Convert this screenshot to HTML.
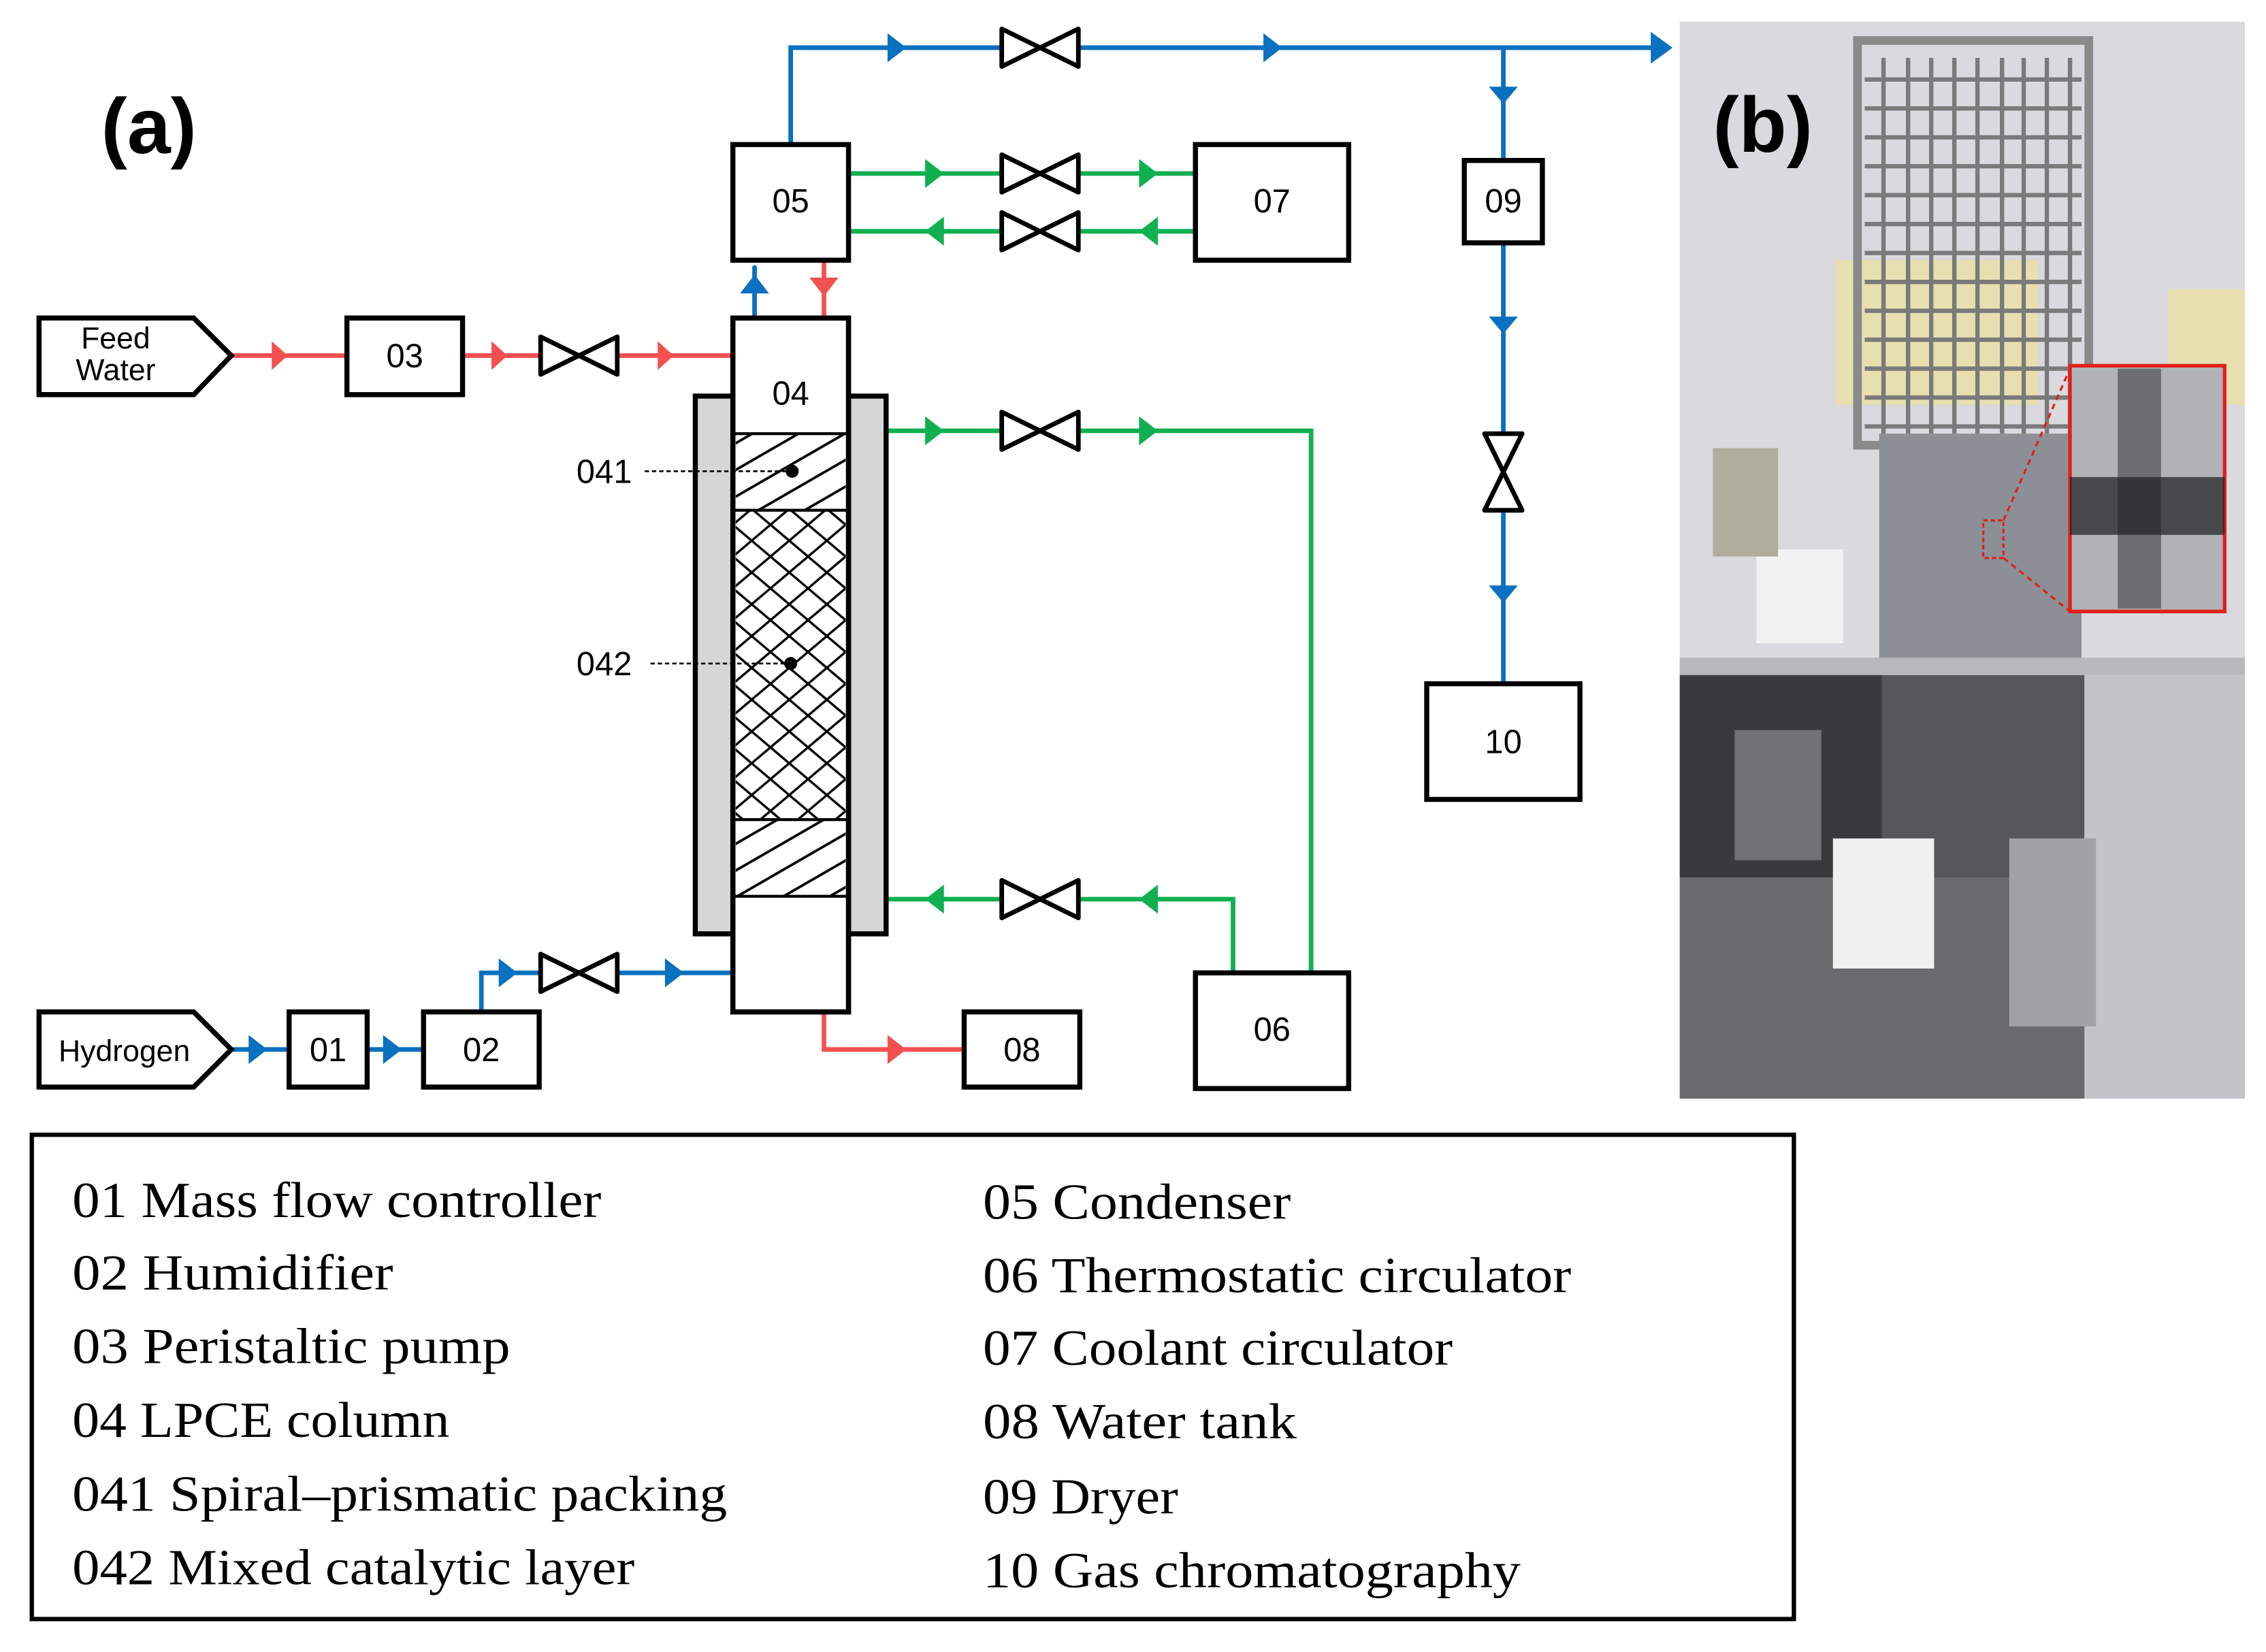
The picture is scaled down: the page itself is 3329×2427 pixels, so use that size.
<!DOCTYPE html>
<html><head><meta charset="utf-8">
<style>html,body{margin:0;padding:0;background:#fff}svg{display:block}</style>
</head><body>
<svg width="3329" height="2427" viewBox="0 0 1567.6 1142.8" preserveAspectRatio="none" xmlns="http://www.w3.org/2000/svg">
<defs>
<pattern id="hatch" patternUnits="userSpaceOnUse" width="16" height="16" patternTransform="rotate(-30)">
<line x1="0" y1="8" x2="16" y2="8" stroke="#000" stroke-width="1.8"/>
</pattern>
<pattern id="cross" patternUnits="userSpaceOnUse" width="26" height="22">
<path d="M0,0 L26,22 M26,0 L0,22" stroke="#000" stroke-width="1.6" fill="none"/>
</pattern>
</defs>
<rect width="1567.6" height="1142.8" fill="#fff"/>
<text x="70" y="106" font-family="Liberation Sans, sans-serif" font-size="54" font-weight="bold">(a)</text>

<g stroke-width="3.2" fill="none" stroke-linecap="round">
<path stroke="#f55050" d="M160,246 H507 M570,180 V220 M570,700 V726 H667"/>
<path stroke="#0a70c0" d="M547,100 V33 H1148 M1040,33 V111 M1040,168 V473 M522,220 V185 M160,726 H200 M254,726 H293 M333,700 V673 H507"/>
<path stroke="#10b050" d="M587,120 H827 M587,160 H827 M614,298 H907 V673 M614,622 H853 V673"/>
</g>

<g fill="#f55050">
<path d="M188,236 L199,246 L188,256Z"/><path d="M340,236 L351,246 L340,256Z"/><path d="M455,236 L466,246 L455,256Z"/>
<path d="M560,192 L580,192 L570,205Z"/><path d="M614,716 L627,726 L614,736Z"/>
</g>
<g fill="#0a70c0">
<path d="M614,23 L627,33 L614,43Z"/><path d="M874,23 L887,33 L874,43Z"/><path d="M1142,22 L1157,33 L1142,44Z"/>
<path d="M1030,60 L1050,60 L1040,72Z"/><path d="M1030,219 L1050,219 L1040,231Z"/><path d="M1030,405 L1050,405 L1040,417Z"/>
<path d="M512,203 L532,203 L522,190Z"/>
<path d="M172,716 L185,726 L172,736Z"/><path d="M265,716 L278,726 L265,736Z"/>
<path d="M345,663 L358,673 L345,683Z"/><path d="M460,663 L473,673 L460,683Z"/>
</g>
<g fill="#10b050">
<path d="M640,110 L653,120 L640,130Z"/><path d="M788,110 L801,120 L788,130Z"/>
<path d="M653,150 L640,160 L653,170Z"/><path d="M801,150 L788,160 L801,170Z"/>
<path d="M640,288 L653,298 L640,308Z"/><path d="M788,288 L801,298 L788,308Z"/>
<path d="M653,612 L640,622 L653,632Z"/><path d="M801,612 L788,622 L801,632Z"/>
</g>

<g fill="#fff" stroke="#000" stroke-width="3.2" stroke-linejoin="round">
<path d="M374,233 L427,259 L427,233 L374,259Z"/>
<path d="M693,20 L746,46 L746,20 L693,46Z"/>
<path d="M693,107 L746,133 L746,107 L693,133Z"/>
<path d="M693,147 L746,173 L746,147 L693,173Z"/>
<path d="M693,285 L746,311 L746,285 L693,311Z"/>
<path d="M693,609 L746,635 L746,609 L693,635Z"/>
<path d="M374,660 L427,686 L427,660 L374,686Z"/>
<path d="M1027,300 L1053,353 L1027,353 L1053,300Z"/>
</g>

<rect x="481" y="274" width="132" height="372" fill="#d6d6d6" stroke="#000" stroke-width="3.5"/>
<rect x="507" y="220" width="80" height="480" fill="#fff" stroke="#000" stroke-width="3.5"/>
<rect x="509" y="300" width="76" height="53" fill="url(#hatch)"/>
<rect x="509" y="567" width="76" height="53" fill="url(#hatch)"/>
<rect x="509" y="353" width="76" height="214" fill="url(#cross)"/>
<g stroke="#000" stroke-width="2">
<line x1="507" y1="300" x2="587" y2="300"/><line x1="507" y1="353" x2="587" y2="353"/>
<line x1="507" y1="567" x2="587" y2="567"/><line x1="507" y1="620" x2="587" y2="620"/>
</g>
<rect x="507" y="220" width="80" height="480" fill="none" stroke="#000" stroke-width="3.5"/>
<circle cx="548" cy="326" r="4.5"/><circle cx="547" cy="459" r="4.5"/>
<g stroke="#000" stroke-width="1.2" stroke-dasharray="3,2">
<line x1="446" y1="326" x2="545" y2="326"/><line x1="450" y1="459" x2="545" y2="459"/>
</g>

<g fill="#fff" stroke="#000" stroke-width="3.5">
<path d="M27,220 H134 L160,246 L134,273 H27Z"/>
<path d="M27,700 H134 L160,726 L134,752 H27Z"/>
<rect x="240" y="220" width="80" height="53"/>
<rect x="507" y="100" width="80" height="80"/>
<rect x="827" y="100" width="106" height="80"/>
<rect x="1013" y="111" width="54" height="57"/>
<rect x="987" y="473" width="106" height="80"/>
<rect x="827" y="673" width="106" height="80"/>
<rect x="667" y="700" width="80" height="52"/>
<rect x="200" y="700" width="54" height="52"/>
<rect x="293" y="700" width="80" height="52"/>
</g>
<g font-family="Liberation Sans, sans-serif" font-size="23" text-anchor="middle">
<text x="80" y="241" font-size="21">Feed</text><text x="80" y="263" font-size="21">Water</text>
<text x="86" y="734" font-size="21">Hydrogen</text>
<text x="280" y="254">03</text><text x="547" y="147">05</text><text x="547" y="280">04</text>
<text x="880" y="147">07</text><text x="1040" y="147">09</text><text x="1040" y="521">10</text>
<text x="880" y="720">06</text><text x="707" y="734">08</text><text x="227" y="734">01</text><text x="333" y="734">02</text>
<text x="418" y="334">041</text><text x="418" y="467">042</text>
</g>

<rect x="22" y="785" width="1219" height="335" fill="none" stroke="#000" stroke-width="3"/>
<g font-family="Liberation Serif, serif" font-size="35">
<text x="50" y="842" textLength="366" lengthAdjust="spacingAndGlyphs">01 Mass flow controller</text>
<text x="50" y="892" textLength="222" lengthAdjust="spacingAndGlyphs">02 Humidifier</text>
<text x="50" y="943" textLength="303" lengthAdjust="spacingAndGlyphs">03 Peristaltic pump</text>
<text x="50" y="994" textLength="261" lengthAdjust="spacingAndGlyphs">04 LPCE column</text>
<text x="50" y="1045" textLength="453" lengthAdjust="spacingAndGlyphs">041 Spiral–prismatic packing</text>
<text x="50" y="1096" textLength="389" lengthAdjust="spacingAndGlyphs">042 Mixed catalytic layer</text>
<text x="680" y="843" textLength="213" lengthAdjust="spacingAndGlyphs">05 Condenser</text>
<text x="680" y="894" textLength="407" lengthAdjust="spacingAndGlyphs">06 Thermostatic circulator</text>
<text x="680" y="944" textLength="325" lengthAdjust="spacingAndGlyphs">07 Coolant circulator</text>
<text x="680" y="995" textLength="217" lengthAdjust="spacingAndGlyphs">08 Water tank</text>
<text x="680" y="1047" textLength="135" lengthAdjust="spacingAndGlyphs">09 Dryer</text>
<text x="680" y="1098" textLength="372" lengthAdjust="spacingAndGlyphs">10 Gas chromatography</text>
</g>

<g>
<rect x="1162" y="15" width="391" height="745" fill="#d9d9de"/>
<rect x="1270" y="180" width="140" height="100" fill="#e8dfb0"/>
<rect x="1500" y="200" width="53" height="80" fill="#e8dfb0"/>
<rect x="1285" y="28" width="160" height="280" fill="none" stroke="#8a8a8a" stroke-width="6"/>
<g stroke="#7a7a7a" stroke-width="3">
<path d="M1303,40V300 M1320,40V300 M1336,40V300 M1352,40V300 M1368,40V300 M1385,40V300 M1400,40V300 M1416,40V300 M1432,40V300"/>
<path d="M1290,55H1440 M1290,75H1440 M1290,95H1440 M1290,115H1440 M1290,135H1440 M1290,155H1440 M1290,175H1440 M1290,195H1440 M1290,215H1440 M1290,235H1440 M1290,255H1440 M1290,275H1440 M1290,295H1440"/>
</g>
<rect x="1300" y="300" width="140" height="160" fill="#8c8f95"/>
<rect x="1162" y="455" width="391" height="12" fill="#b8b8bc"/>
<rect x="1162" y="467" width="140" height="140" fill="#3a3a3c"/>
<rect x="1302" y="467" width="140" height="200" fill="#55575a"/>
<rect x="1442" y="467" width="111" height="293" fill="#c2c4c8"/>
<rect x="1162" y="607" width="280" height="153" fill="#6a6a6c"/>
<rect x="1215" y="380" width="60" height="65" fill="#f2f2f2"/>
<rect x="1185" y="310" width="45" height="75" fill="#b0ad9c"/>
<rect x="1268" y="580" width="70" height="90" fill="#f0f0f0"/>
<rect x="1390" y="580" width="60" height="130" fill="#a0a2a6"/>
<rect x="1200" y="505" width="60" height="90" fill="#707274"/>
<rect x="1432" y="253" width="107" height="170" fill="#b0b2b6" stroke="#e0201c" stroke-width="2.5"/>
<rect x="1465" y="255" width="30" height="166" fill="#6c6e70"/>
<rect x="1432" y="330" width="107" height="40" fill="#1c1c1e" opacity="0.7"/>
<rect x="1372" y="360" width="14" height="26" fill="none" stroke="#e0201c" stroke-width="1.5" stroke-dasharray="3,2"/>
<path d="M1386,360 L1432,255 M1386,386 L1432,423" stroke="#e0201c" stroke-width="1.5" stroke-dasharray="4,3"/>
<text x="1185" y="105" font-family="Liberation Sans, sans-serif" font-size="54" font-weight="bold">(b)</text>
</g>
</svg>
</body></html>
